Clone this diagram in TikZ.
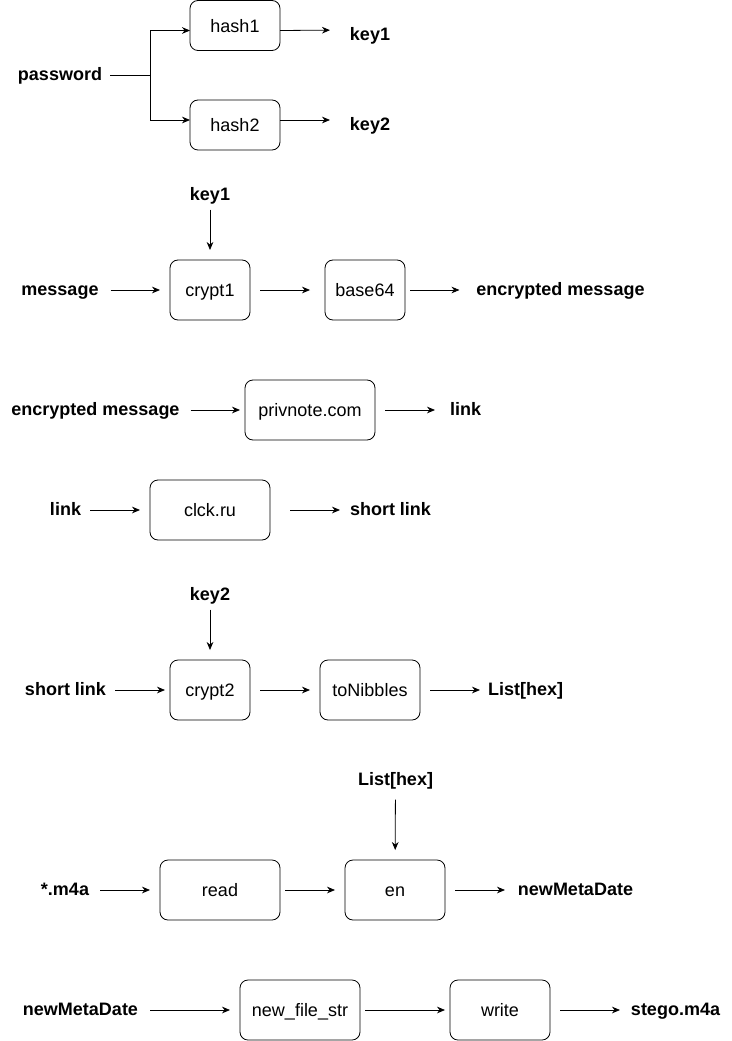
\documentclass[tikz,border=0pt]{standalone}
\usepackage{fontspec}
\setmainfont{Liberation Sans}
\usetikzlibrary{calc}
\usetikzlibrary{arrows.meta}
\tikzset{box/.style 2 args={draw,rounded corners=6pt,inner sep=0pt,outer sep=0pt,minimum width=#1*0.75pt,minimum height=#2*0.75pt,text height=12pt,text depth=2pt,font=\fontsize{13.5pt}{16pt}\selectfont}}
\tikzset{lbl/.style={inner sep=0pt,outer sep=0pt,text height=10.5pt,text depth=2.5pt,font=\fontsize{13.5pt}{16pt}\selectfont\bfseries}}
\tikzset{gap/.style 2 args={shorten <=#1*0.75pt,shorten >=#2*0.75pt}}

\begin{document}
\begin{tikzpicture}[x=0.75pt,y=-0.75pt,line width=0.6pt,>={Stealth[length=6pt,width=5pt]}]
		\useasboundingbox (0,0) rectangle (731,1041);

		% password -> hashes
		\node[lbl](pw) at (60,75){password};
		\node[box={90}{50}](h1) at (235,25.5){hash1};
		\node[box={90}{50}](h2) at (235,125){hash2};
		\node[lbl](k1a) at (370,35){key1};
		\node[lbl](k2a) at (370,125){key2};
		\coordinate (split) at (150,75);

		\draw[gap={8}{0}] (pw) -- (split);
		\draw[->] (split) |- ($(h1.west)+(0,5)$);
		\draw[->] (split) |- ($(h2.west)+(0,-5)$);
		\draw[->,gap={0}{20}] ($(h1.east)+(0,5)$) -- ($(k1a.west)+(0,-5)$);
		\draw[->,gap={0}{20}] ($(h2.east)+(0,-5)$) -- ($(k2a.west)+(0,-5)$);

		% message -> encrypted message
		\node[lbl](k1b) at (210,195){key1};
		\node[lbl](msg) at (60,290){message};
		\node[box={80}{60}](c1) at (210,290){crypt1};
		\node[box={80}{60}](b64) at (365,290){base64};
		\node[lbl](enc) at (560.5,290){encrypted message};

		\draw[->,gap={6}{10}] (k1b) -- (c1);
		\draw[->,gap={12}{10}] (msg) -- (c1);
		\draw[->,gap={10}{15}] (c1) -- (b64);
		\draw[->,gap={5}{17}] (b64) -- (enc);

		% encrypted message -> link
		\node[lbl](enc2) at (95.5,410){encrypted message};
		\node[box={130}{60}](pn) at (310,410){privnote.com};
		\node[lbl](lnk) at (465.5,410){link};

		\draw[->,gap={11}{5}] (enc2) -- (pn);
		\draw[->,gap={10}{15}] (pn) -- (lnk);

		% link -> short link
		\node[lbl](lnk2) at (65.5,510){link};
		\node[box={120}{60}](ck) at (210,510){clck.ru};
		\node[lbl](sl) at (390.5,510){short link};

		\draw[->,gap={9}{10}] (lnk2) -- (ck);
		\draw[->,gap={20}{10}] (ck) -- (sl);

		% short link -> List[hex]
		\node[lbl](k2b) at (210,595){key2};
		\node[lbl](sl2) at (65.5,690){short link};
		\node[box={80}{60}](c2) at (210,690){crypt2};
		\node[box={100}{60}](nib) at (370,690){toNibbles};
		\node[lbl](lst) at (525.5,690){List[hex]};

		\draw[->,gap={6}{10}] (k2b) -- (c2);
		\draw[->,gap={9}{5}] (sl2) -- (c2);
		\draw[->,gap={10}{10}] (c2) -- (nib);
		\draw[->,gap={10}{8}] (nib) -- (lst);

		% *.m4a -> newMetaDate
		\node[lbl](lst2) at (395.5,780){List[hex]};
		\node[lbl](m4a) at (65,890){*.m4a};
		\node[box={120}{60}](rd) at (220,890){read};
		\node[box={100}{60}](en) at (395,890){en};
		\node[lbl](nmd) at (575.5,890){newMetaDate};

		\draw[->,gap={11}{10}] (lst2) -- (en);
		\draw[->,gap={11}{10}] (m4a) -- (rd);
		\draw[->,gap={5}{10}] (rd) -- (en);
		\draw[->,gap={10}{13}] (en) -- (nmd);

		% newMetaDate -> stego.m4a
		\node[lbl](nmd2) at (80.5,1010){newMetaDate};
		\node[box={120}{60}](nfs) at (300,1010){new\_file\_str};
		\node[box={100}{60}](wr) at (500,1010){write};
		\node[lbl](stg) at (675.5,1010){stego.m4a};

		\draw[->,gap={12}{10}] (nmd2) -- (nfs);
		\draw[->,gap={5}{5}] (nfs) -- (wr);
		\draw[->,gap={10}{11}] (wr) -- (stg);
\end{tikzpicture}
\end{document}
